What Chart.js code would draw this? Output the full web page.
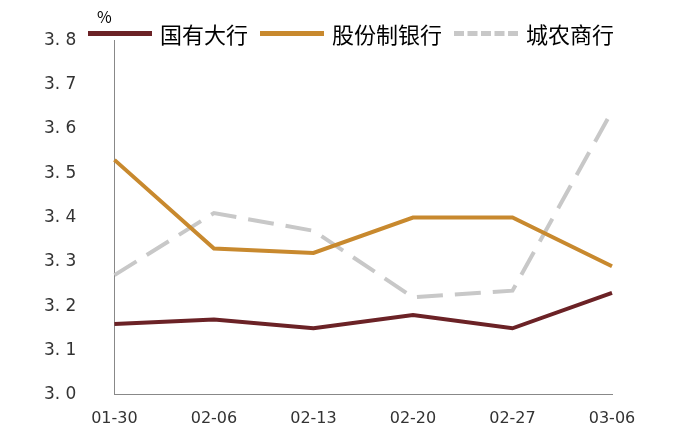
<!DOCTYPE html>
<html><head><meta charset="utf-8">
<script src="https://cdn.jsdelivr.net/npm/chart.js@4"></script>
<style>
body{margin:0;background:#fff;font-family:"Noto Sans CJK SC",sans-serif}
#wrap{position:relative;width:700px;height:438px}
#legend{position:absolute;top:17px;left:88px;display:flex;font-size:22px;color:#000;align-items:center}
.it{display:flex;align-items:center;margin-right:12px}
.sw{width:64px;height:0;margin-right:8px}
#pct{position:absolute;left:97px;top:4px;font-size:16px}
</style></head><body>
<div id="wrap"><canvas id="c" width="700" height="438"></canvas>
<div id="pct">%</div>
<div id="legend">
<div class="it"><div class="sw" style="border-top:5px solid #6b2226"></div>国有大行</div>
<div class="it"><div class="sw" style="border-top:5px solid #c8892e"></div>股份制银行</div>
<div class="it"><div class="sw" style="border-top:5px dashed #c8c8c8"></div>城农商行</div>
</div></div>
<script>
const categories=["01-30","02-06","02-13","02-20","02-27","03-06"];
const bigBanks=[3.16,3.17,3.15,3.18,3.15,3.23];
const jointStock=[3.53,3.33,3.32,3.40,3.40,3.29];
const cityRural=[3.27,3.41,3.37,3.22,3.235,3.64];
new Chart(document.getElementById('c'),{type:'line',
data:{labels:categories,datasets:[
{data:bigBanks,borderColor:'#6b2226',borderWidth:4,pointRadius:0,tension:0},
{data:jointStock,borderColor:'#c8892e',borderWidth:4,pointRadius:0,tension:0},
{data:cityRural,borderColor:'#c8c8c8',borderWidth:4,borderDash:[26,12],pointRadius:0,tension:0}]},
options:{responsive:false,animation:false,layout:{padding:{top:12,right:88,left:14,bottom:4}},
plugins:{legend:{display:false},tooltip:{enabled:false}},
scales:{x:{offset:false,grid:{display:false,drawTicks:true},border:{color:'#888'},
ticks:{color:'#333',font:{size:16,family:'DejaVu Sans'},padding:6,maxRotation:0}},
y:{min:3.0,max:3.8,grid:{display:false},border:{color:'#888'},
ticks:{stepSize:0.1,color:'#333',font:{size:17,family:'DejaVu Sans'},padding:30,
callback:v=>v.toFixed(1).replace('.','. ')}}}}});
</script></body></html>
